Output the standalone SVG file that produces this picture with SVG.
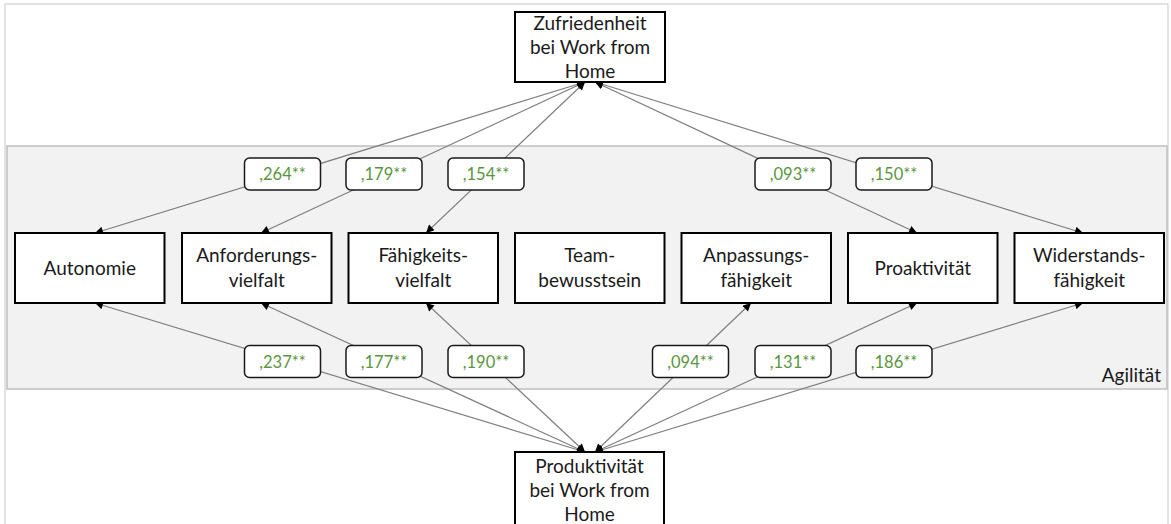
<svg xmlns="http://www.w3.org/2000/svg" width="1171" height="524" viewBox="0 0 1171 524">
<style>
.node rect{fill:#fff;stroke:#000;stroke-width:2}
.node text{font-family:Lato,"Liberation Sans",sans-serif;font-size:19px;fill:#1a1a1a;text-anchor:middle}
.lbl rect{fill:#fff;stroke:#1a1a1a;stroke-width:1.5}
.lbl text{font-family:Lato,"Liberation Sans",sans-serif;font-size:16.5px;fill:#5a9640;text-anchor:middle}
.con line{stroke:#7f7f7f;stroke-width:1.2;marker-start:url(#ah);marker-end:url(#ah)}
</style>
<defs>
<marker id="ah" viewBox="0 0 10 10" refX="10" refY="5" markerWidth="9" markerHeight="8" markerUnits="userSpaceOnUse" orient="auto-start-reverse">
<path d="M0,0 L10,5 L0,10 z" fill="#000"/>
</marker>
</defs>
<rect x="0" y="0" width="1171" height="524" fill="#fff"/>
<rect x="5" y="4" width="1163" height="530" fill="none" stroke="#d0d0d0" stroke-width="1.2"/>
<g id="agilitaet">
<rect x="7" y="146" width="1160" height="243" fill="#f2f2f2" stroke="#bfbfbf" stroke-width="1.5"/>
<text x="1161" y="382" font-family="Lato,'Liberation Sans',sans-serif" font-size="19" fill="#1a1a1a" text-anchor="end">Agilität</text>
</g>
<g id="connectors" class="con">
<line x1="585" y1="82" x2="95" y2="233"/>
<line x1="585" y1="82" x2="261" y2="233"/>
<line x1="585" y1="82" x2="426" y2="233"/>
<line x1="595" y1="82" x2="917" y2="233"/>
<line x1="595" y1="82" x2="1083" y2="233"/>
<line x1="585" y1="452" x2="95" y2="303"/>
<line x1="585" y1="452" x2="261" y2="303"/>
<line x1="585" y1="452" x2="426" y2="303"/>
<line x1="595" y1="452" x2="751" y2="303"/>
<line x1="595" y1="452" x2="917" y2="303"/>
<line x1="595" y1="452" x2="1083" y2="303"/>
</g>
<g id="zufriedenheit" class="node">
<rect x="515" y="12" width="150" height="70"/>
<text x="590" y="29.5">Zufriedenheit</text>
<text x="590" y="53.5">bei Work from</text>
<text x="590" y="77.5">Home</text>
</g>
<g id="produktivitaet" class="node">
<rect x="515" y="452" width="149" height="82"/>
<text x="589.5" y="472.5">Produktivität</text>
<text x="589.5" y="496.5">bei Work from</text>
<text x="589.5" y="520.5">Home</text>
</g>
<g id="autonomie" class="node">
<rect x="15" y="233" width="149.5" height="70"/>
<text x="89.75" y="274.5">Autonomie</text>
</g>
<g id="anforderungsvielfalt" class="node">
<rect x="182" y="233" width="149.5" height="70"/>
<text x="256.75" y="262">Anforderungs-</text>
<text x="256.75" y="286.5">vielfalt</text>
</g>
<g id="faehigkeitsvielfalt" class="node">
<rect x="348.5" y="233" width="149.5" height="70"/>
<text x="423.25" y="262">Fähigkeits-</text>
<text x="423.25" y="286.5">vielfalt</text>
</g>
<g id="teambewusstsein" class="node">
<rect x="515" y="233" width="149.5" height="70"/>
<text x="589.75" y="262">Team-</text>
<text x="589.75" y="286.5">bewusstsein</text>
</g>
<g id="anpassungsfaehigkeit" class="node">
<rect x="681.5" y="233" width="149.5" height="70"/>
<text x="756.25" y="262">Anpassungs-</text>
<text x="756.25" y="286.5">fähigkeit</text>
</g>
<g id="proaktivitaet" class="node">
<rect x="848" y="233" width="149.5" height="70"/>
<text x="922.75" y="274.5">Proaktivität</text>
</g>
<g id="widerstandsfaehigkeit" class="node">
<rect x="1014.5" y="233" width="149.5" height="70"/>
<text x="1089.25" y="262">Widerstands-</text>
<text x="1089.25" y="286.5">fähigkeit</text>
</g>
<g id="labels">
<g class="lbl"><rect x="244.5" y="158" width="76" height="32" rx="5"/><text x="282.5" y="180">,264**</text></g>
<g class="lbl"><rect x="346" y="158" width="76" height="32" rx="5"/><text x="384" y="180">,179**</text></g>
<g class="lbl"><rect x="448" y="158" width="76" height="32" rx="5"/><text x="486" y="180">,154**</text></g>
<g class="lbl"><rect x="755" y="158" width="76" height="32" rx="5"/><text x="793" y="180">,093**</text></g>
<g class="lbl"><rect x="856" y="158" width="76" height="32" rx="5"/><text x="894" y="180">,150**</text></g>
<g class="lbl"><rect x="244.5" y="345.5" width="76" height="32" rx="5"/><text x="282.5" y="367.5">,237**</text></g>
<g class="lbl"><rect x="346" y="345.5" width="76" height="32" rx="5"/><text x="384" y="367.5">,177**</text></g>
<g class="lbl"><rect x="448" y="345.5" width="76" height="32" rx="5"/><text x="486" y="367.5">,190**</text></g>
<g class="lbl"><rect x="652.5" y="345.5" width="76" height="32" rx="5"/><text x="690.5" y="367.5">,094**</text></g>
<g class="lbl"><rect x="755" y="345.5" width="76" height="32" rx="5"/><text x="793" y="367.5">,131**</text></g>
<g class="lbl"><rect x="856" y="345.5" width="76" height="32" rx="5"/><text x="894" y="367.5">,186**</text></g>
</g>
</svg>
